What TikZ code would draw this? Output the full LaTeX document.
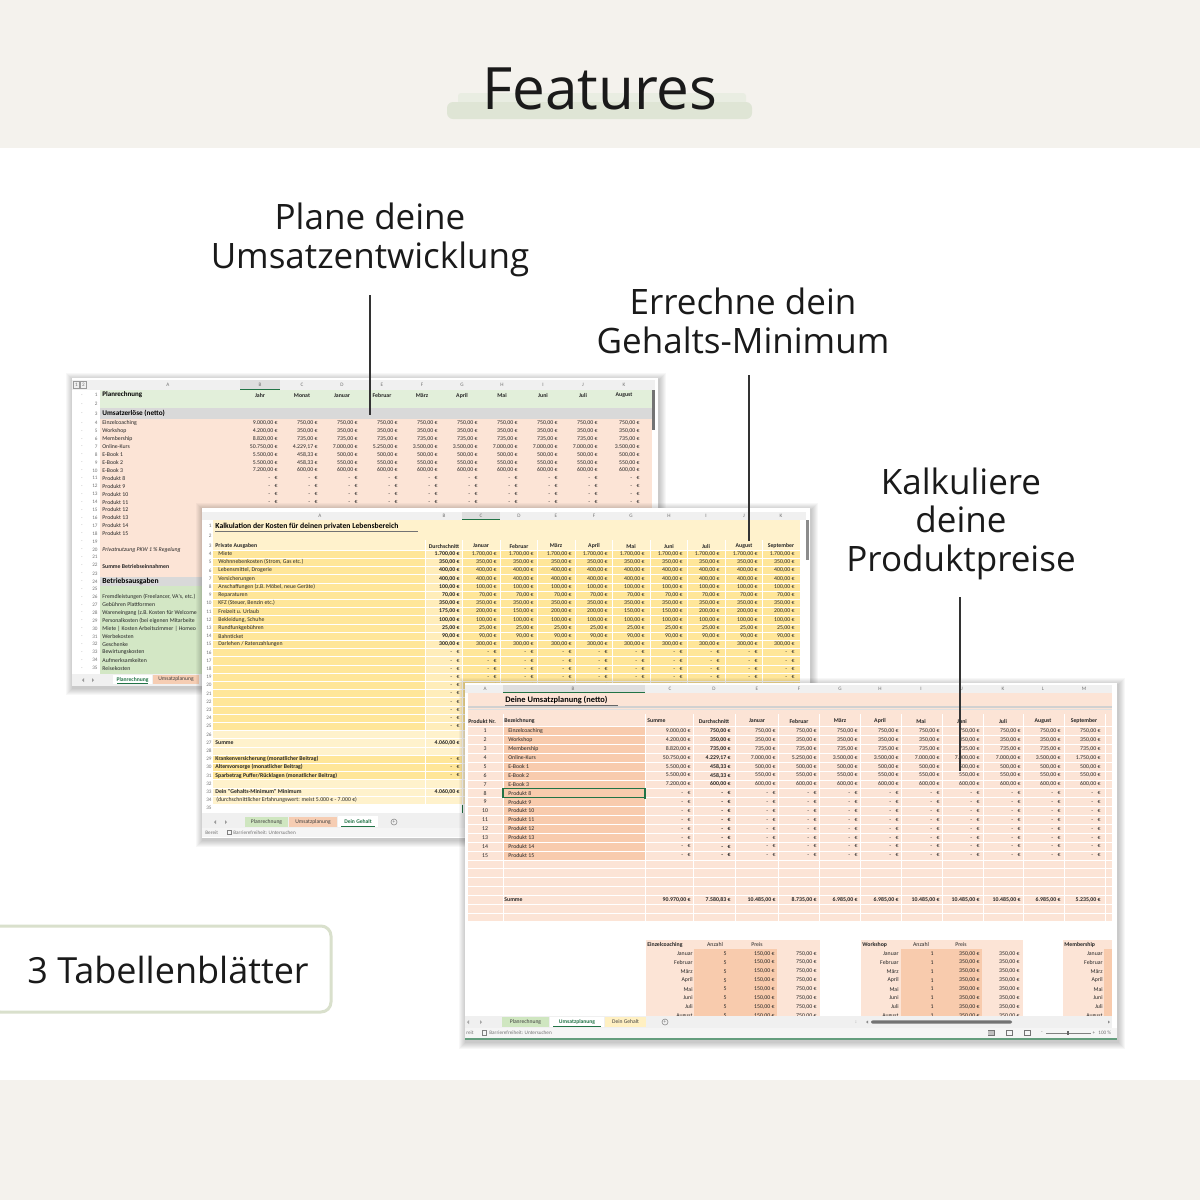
\documentclass[tikz,border=0pt]{standalone}
\usepackage{fontspec}
\setmainfont{Open Sans}
\newfontfamily\carl{Carlito}
\usetikzlibrary{calc}
\definecolor{beige}{HTML}{F4F2ED}
\definecolor{hl}{HTML}{DFE5D5}
\definecolor{boxline}{HTML}{D9E0CC}
\definecolor{salm}{HTML}{FCE4D6}
\definecolor{salmd}{HTML}{F8CBAD}
\definecolor{lgreen}{HTML}{E2EFDA}
\definecolor{mgreen}{HTML}{D3E7C5}
\definecolor{grayb}{HTML}{D9D9D9}
\definecolor{yel}{HTML}{FFE699}
\definecolor{yelm}{HTML}{FFEDBA}
\definecolor{yell}{HTML}{FFF2CC}
\definecolor{hdr}{HTML}{F0F0F0}
\definecolor{xg}{HTML}{217346}
\definecolor{tabg}{HTML}{CFE6C0}
\definecolor{tabs}{HTML}{F6CDB3}
\definecolor{taby}{HTML}{FFF0C2}
\definecolor{ink}{HTML}{1A1A1A}
\newcommand\E[1]{#1,00~€}
\newcommand\F[2]{#1,#2~€}
\newcommand\nil{-\hspace{2.2pt}€}
\newcommand\rowvals[5]{%
  \foreach \v [count=\i from 0] in {#5} {%
    \pgfmathsetmacro\xx{#2[\i]}%
    \node[#4, anchor=east] (#1-\i) at (\xx,{#3}) {\v};
  }}
\newcommand\shadowbox[4]{%
  \foreach \k in {1,...,7} {\fill[shade] (#1-\k+1,#2-\k+2) rectangle (#3+\k+1,#4+\k+2);}}
\tikzset{
  c/.style={font=\carl\fontsize{2.9}{3}\selectfont, inner sep=0pt, text=black!85},
  cb/.style={font=\carl\bfseries\fontsize{2.9}{3}\selectfont, inner sep=0pt, text=black!85},
  hd/.style={font=\carl\fontsize{2.6}{3}\selectfont, inner sep=0pt, text=black!55},
  tabt/.style={font=\carl\fontsize{2.8}{3}\selectfont, inner sep=0pt, text=black!75},
  tabact/.style={font=\carl\bfseries\fontsize{2.8}{3}\selectfont, inner sep=0pt, text=xg},
  lab/.style={font=\fontsize{17.5}{19.3}\selectfont, align=center, text=ink, inner sep=0pt},
  lead/.style={draw=black!80, line width=0.7pt},
  shade/.style={fill=black, opacity=0.03},
  grid/.style={draw=white, line width=0.3pt},
}
\begin{document}
\begin{tikzpicture}[x=0.5pt,y=-0.5pt]
\useasboundingbox (0,0) rectangle (1200,1200);
% ---------------- background
\fill[white] (0,0) rectangle (1200,1200);
\fill[beige] (0,0) rectangle (1200,148);
\fill[beige] (0,1080) rectangle (1200,1200);
% ---------------- title
\fill[hl!70, rounded corners=1.5] (458,93) rectangle (746,104);
\fill[hl, rounded corners=3] (447,102) rectangle (752,119);
\node[font=\fontsize{29.2}{31}\selectfont, text=ink, anchor=base, inner sep=0pt] (title) at (600,109) {Features};

% ================= SHEET 1 : Planrechnung
\shadowbox{72}{378}{658}{686}
\fill[white] (72,378) rectangle (658,686);
\fill[hdr] (72,380) rectangle (655,390);
\fill[black!13] (240,380) rectangle (280,390);
\draw[xg, line width=0.5pt] (240,389.6) -- (280,389.6);
\foreach \l/\x in {A/168,B/260,C/302,D/342,E/382,F/422,G/462,H/502,I/543,J/583,K/624}
  {\node[hd] (s1h\l) at (\x,385.3) {\l};}
\draw[black!40, line width=0.2pt] (73.5,381.5) rectangle (79.5,388.5) (80.5,381.5) rectangle (86.5,388.5);
\node[hd] (s1o1) at (76.5,385.2) {1};
\node[hd] (s1o2) at (83.5,385.2) {2};
\fill[lgreen] (100,390) rectangle (652,408);
\fill[grayb] (100,408) rectangle (652,418.5);
\fill[salm] (100,418.5) rectangle (652,577);
\fill[grayb] (100,577) rectangle (652,586);
\fill[mgreen] (100,586) rectangle (652,674);
\fill[black!55] (652,390) rectangle (655,430);
\foreach \k in {1,...,35} {
  \pgfmathsetmacro\yy{\k<4 ? 395+(\k-1)*9.2 : (\k<23 ? 423+(\k-4)*7.9 : (\k==23 ? 573.5 : (\k==24 ? 581.5 : 589+(\k-25)*7.9)))}
  \node[hd, anchor=east] (s1n\k) at (98,\yy) {\k};
  \node[hd] (s1d\k) at (82,\yy) {.};
}
\node[font=\carl\bfseries\fontsize{3.5}{4}\selectfont, inner sep=0pt, anchor=west] (s1t) at (102,395) {Planrechnung};
\node[font=\carl\bfseries\fontsize{3.6}{4}\selectfont, inner sep=0pt, anchor=west] (s1u) at (102,413.5) {Umsatzerlöse (netto)};
\foreach \h [count=\i from 0] in {Jahr,Monat,Januar,Februar,März,April,Mai,Juni,Juli,August}{
  \pgfmathsetmacro\xx{{260,302,342,382,422,462,502,543,583,624}[\i]}
  \node[cb] (s1c\i) at (\xx,395.5) {\h};
}
\foreach \k/\t in {4/Einzelcoaching,5/Workshop,6/Membership,7/Online-Kurs,8/E-Book 1,9/E-Book 2,10/E-Book 3,11/Produkt 8,12/Produkt 9,13/Produkt 10,14/Produkt 11,15/Produkt 12,16/Produkt 13,17/Produkt 14,18/Produkt 15}
  {\node[c, anchor=west] (s1l\k) at (102,{423+(\k-4)*7.9}) {\t};}
\node[c, anchor=west, font=\carl\itshape\fontsize{2.9}{3}\selectfont] (s1l20) at (102,550.4) {Privatnutzung PKW 1 \% Regelung};
\node[cb, anchor=west] (s1l22) at (102,566.2) {Summe Betriebseinnahmen};
\node[font=\carl\bfseries\fontsize{3.8}{4}\selectfont, inner sep=0pt, anchor=west] (s1l24) at (102,581.5) {Betriebsausgaben};
\foreach \k/\t in {26/{Fremdleistungen (Freelancer, VA's, etc.)},27/Gebühren Plattformen,28/Wareneingang (z.B. Kosten für Welcome,29/Personalkosten (bei eigenen Mitarbeite,30/Miete | Kosten Arbeitszimmer | Homeo,31/Werbekosten,32/Geschenke,33/Bewirtungskosten,34/Aufmerksamkeiten,35/Reisekosten}
  {\node[c, anchor=west] (s1l\k) at (102,{589+(\k-25)*7.9}) {\t};}
\def\xa{{278,318,358,398,438,478,518,558,598,640}}
\rowvals{s1v4}{\xa}{423}{c}{\E{9.000},\E{750},\E{750},\E{750},\E{750},\E{750},\E{750},\E{750},\E{750},\E{750}}
\rowvals{s1v5}{\xa}{430.9}{c}{\E{4.200},\E{350},\E{350},\E{350},\E{350},\E{350},\E{350},\E{350},\E{350},\E{350}}
\rowvals{s1v6}{\xa}{438.8}{c}{\E{8.820},\E{735},\E{735},\E{735},\E{735},\E{735},\E{735},\E{735},\E{735},\E{735}}
\rowvals{s1v7}{\xa}{446.7}{c}{\E{50.750},\F{4.229}{17},\E{7.000},\E{5.250},\E{3.500},\E{3.500},\E{7.000},\E{7.000},\E{7.000},\E{3.500}}
\rowvals{s1v8}{\xa}{454.6}{c}{\E{5.500},\F{458}{33},\E{500},\E{500},\E{500},\E{500},\E{500},\E{500},\E{500},\E{500}}
\rowvals{s1v9}{\xa}{462.5}{c}{\E{5.500},\F{458}{33},\E{550},\E{550},\E{550},\E{550},\E{550},\E{550},\E{550},\E{550}}
\rowvals{s1v10}{\xa}{470.4}{c}{\E{7.200},\E{600},\E{600},\E{600},\E{600},\E{600},\E{600},\E{600},\E{600},\E{600}}
\foreach \k in {11,...,15}
  {\rowvals{s1v\k}{\xa}{423+(\k-4)*7.9}{c}{\nil,\nil,\nil,\nil,\nil,\nil,\nil,\nil,\nil,\nil}}
% tab bar sheet 1
\fill[hdr] (72,674) rectangle (202,686);
\fill[black!40] (84,678) -- (84,682) -- (82,680) -- cycle;
\fill[black!40] (92,678) -- (92,682) -- (94,680) -- cycle;
\fill[white] (113,675) rectangle (152,684);
\node[tabact] (s1tab1) at (132.5,679.5) {Planrechnung};
\draw[xg, line width=0.5pt] (117,683.2) -- (148,683.2);
\fill[tabs] (153,675) rectangle (199,684);
\node[tabt] (s1tab2) at (176,679.5) {Umsatzplanung};

% ================= SHEET 2 : Dein Gehalt
\shadowbox{202}{508}{810}{838}
\fill[white] (202,508) rectangle (810,838);
\fill[hdr] (202,512) rectangle (806,520);
\fill[black!13] (462,512) rectangle (500,520);
\draw[xg, line width=0.5pt] (462,519.6) -- (500,519.6);
\foreach \l/\x in {A/320,B/444,C/481,D/519,E/556,F/594,G/631,H/669,I/706,J/744,K/781}
  {\node[hd] (s2h\l) at (\x,516) {\l};}
\fill[yell] (213,520) rectangle (800,550);
\fill[yel] (213,550) rectangle (800,730.3);
\fill[yelm] (425,550) rectangle (462,730.3);
\fill[yell] (213,730.3) rectangle (800,804.5);
\fill[yel] (213,755.1) rectangle (462,779.7);
\draw[black!55, line width=0.3pt] (215,531.5) -- (418,531.5);
\foreach \k in {4,...,35} {\draw[grid] (213,{550+(\k-4)*8.2}) -- (800,{550+(\k-4)*8.2});}
\foreach \x in {425,462,500,537,575,612,650,687,725,762,800} {\draw[grid] (\x,540) -- (\x,804.5);}
\fill[black!45] (806,520) rectangle (809,560);
\foreach \k in {1,...,35} {
  \pgfmathsetmacro\yy{\k<4 ? 526+(\k-1)*10 : 554+(\k-4)*8.2}
  \node[hd, anchor=east] (s2n\k) at (212,\yy) {\k};
}
\node[font=\carl\bfseries\fontsize{3.85}{4}\selectfont, inner sep=0pt, anchor=west] (s2t) at (215,526) {Kalkulation der Kosten für deinen privaten Lebensbereich};
\node[cb, anchor=west] (s2pa) at (215,546) {Private Ausgaben};
\foreach \h [count=\i from 0] in {Durchschnitt,Januar,Februar,März,April,Mai,Juni,Juli,August,September}{
  \pgfmathsetmacro\xx{{444,481,519,556,594,631,669,706,744,781}[\i]}
  \node[cb] (s2c\i) at (\xx,546) {\h};
}
\foreach \k/\t in {4/Miete,5/{Wohnnebenkosten (Strom, Gas etc.)},6/{Lebensmittel, Drogerie},7/Versicherungen,8/{Anschaffungen (z.B. Möbel, neue Geräte)},9/Reparaturen,10/{KFZ (Steuer, Benzin etc.)},11/Freizeit u. Urlaub,12/{Bekleidung, Schuhe},13/Rundfunkgebühren,14/Bahnticket,15/{Darlehen / Ratenzahlungen}}
  {\node[c, anchor=west] (s2l\k) at (218,{554+(\k-4)*8.2}) {\t};}
\def\xc{{497,534,572,608,645,683,720,758,795}}
\foreach \k/\d in {4/1.700,5/350,6/400,7/400,8/100,9/70,10/350,12/100,13/25,14/90,15/300} {
  \node[cb, anchor=east] (s2d\k) at (460,{554+(\k-4)*8.2}) {\E{\d}};
  \rowvals{s2v\k}{\xc}{554+(\k-4)*8.2}{c}{\E{\d},\E{\d},\E{\d},\E{\d},\E{\d},\E{\d},\E{\d},\E{\d},\E{\d}}
}
\node[cb, anchor=east] (s2d11) at (460,611.4) {\E{175}};
\rowvals{s2v11}{\xc}{611.4}{c}{\E{200},\E{150},\E{200},\E{200},\E{150},\E{150},\E{200},\E{200},\E{200}}
\foreach \k in {16,...,25} {
  \node[c, anchor=east] (s2d\k) at (460,{554+(\k-4)*8.2}) {\nil};
  \rowvals{s2v\k}{\xc}{554+(\k-4)*8.2}{c}{\nil,\nil,\nil,\nil,\nil,\nil,\nil,\nil,\nil}
}
\node[cb, anchor=west] (s2s) at (215,742.6) {Summe};
\node[cb, anchor=east] (s2sv) at (460,742.6) {\E{4.060}};
\node[cb, anchor=west] (s2k29) at (215,759) {Krankenversicherung (monatlicher Beitrag)};
\node[cb, anchor=west] (s2k30) at (215,767.2) {Altersvorsorge (monatlicher Beitrag)};
\node[cb, anchor=west] (s2k31) at (215,775.4) {Sparbetrag Puffer/Rücklagen (monatlicher Beitrag)};
\foreach \k in {29,30,31} {\node[c, anchor=east] (s2kv\k) at (460,{554+(\k-4)*8.2}) {\nil};}
\node[cb, anchor=west] (s2g) at (215,791.8) {Dein "Gehalts-Minimum" Minimum};
\node[cb, anchor=east] (s2gv) at (460,791.8) {\E{4.060}};
\node[c, anchor=west] (s2e) at (216,800) {(durchschnittlicher Erfahrungswert: meist 5.000 € - 7.000 €)};
\draw[xg, line width=0.5pt] (462,804.5) -- (462,813);
% tab bar sheet 2
\fill[hdr] (202,813) rectangle (806,827.5);
\fill[black!40] (216,820) -- (216,824) -- (214,822) -- cycle;
\fill[black!40] (225,820) -- (225,824) -- (227,822) -- cycle;
\fill[tabg] (245,817) rectangle (288,827);
\node[tabt] (s2tab1) at (266.5,822) {Planrechnung};
\fill[tabs] (289,817) rectangle (337,827);
\node[tabt] (s2tab2) at (313,822) {Umsatzplanung};
\fill[white] (338,816) rectangle (378,827);
\node[tabact] (s2tab3) at (358,822) {Dein Gehalt};
\draw[xg, line width=0.5pt] (341,826.3) -- (375,826.3);
\draw[black!45, line width=0.3pt] (394,822) circle (3);
\node[hd] (s2plus) at (394,821.8) {+};
\fill[black!4] (202,827.5) rectangle (806,837);
\node[hd, anchor=west] (s2st1) at (205,832.5) {Bereit};
\node[hd, anchor=west] (s2st2) at (233,832.5) {Barrierefreiheit: Untersuchen};
\draw[black!50, line width=0.3pt] (227,830) rectangle (231,834.5);

% ================= SHEET 3 : Umsatzplanung
\shadowbox{465}{683}{1117}{1040}
\fill[white] (465,683) rectangle (1117,1040);
\fill[hdr] (465,685) rectangle (1112,693);
\fill[black!13] (503,685) rectangle (645,693);
\draw[xg, line width=0.5pt] (503,692.6) -- (645,692.6);
\foreach \l/\x in {A/485,B/573,C/670,D/714,E/757,F/799,G/840,H/880,I/921,J/962,K/1003,L/1043,M/1084}
  {\node[hd] (s3h\l) at (\x,689) {\l};}
\fill[salm] (468,693) rectangle (1112,921);
\fill[salmd] (503,727) rectangle (645,860);
\foreach \x in {503,645,693,735,778,819,860,901,942,983,1023,1064,1105} {\draw[grid] (\x,714) -- (\x,921);}
\foreach \k in {1,...,22} {\draw[grid] (468,{726.6+(\k-1)*8.88}) -- (1112,{726.6+(\k-1)*8.88});}
\draw[black!18, line width=0.6pt] (468,707) -- (1112,707);
\draw[black!12, line width=0.4pt] (468,709) -- (1112,709);
\node[font=\carl\bfseries\fontsize{4.2}{4.5}\selectfont, inner sep=0pt, anchor=west] (s3t) at (505,700) {Deine Umsatzplanung (netto)};
\draw[black!60, line width=0.3pt] (505,704.8) -- (618,704.8);
\node[cb, anchor=west] (s3pn) at (468,721) {Produkt Nr.};
\node[cb, anchor=west] (s3bz) at (504,721) {Bezeichnung};
\node[cb, anchor=west] (s3sm) at (647,721) {Summe};
\foreach \h [count=\i from 0] in {Durchschnitt,Januar,Februar,März,April,Mai,Juni,Juli,August,September}{
  \pgfmathsetmacro\xx{{714,757,799,840,880,921,962,1003,1043,1084}[\i]}
  \node[cb] (s3c\i) at (\xx,721) {\h};
}
\foreach \k/\t in {1/Einzelcoaching,2/Workshop,3/Membership,4/Online-Kurs,5/E-Book 1,6/E-Book 2,7/E-Book 3,8/Produkt 8,9/Produkt 9,10/Produkt 10,11/Produkt 11,12/Produkt 12,13/Produkt 13,14/Produkt 14,15/Produkt 15} {
  \node[c] (s3n\k) at (485,{731+(\k-1)*8.88}) {\k};
  \node[c, anchor=west] (s3l\k) at (508,{731+(\k-1)*8.88}) {\t};
}
\draw[xg, line width=0.6pt] (503,788.8) rectangle (645,797.6);
\fill[xg] (644,796.6) rectangle (646.2,798.6);
\def\xd{{691,731,776,817,858,899,940,980,1021,1061,1101}}
\rowvals{s3v1}{\xd}{731}{c}{\E{9.000},\textbf{\E{750}},\E{750},\E{750},\E{750},\E{750},\E{750},\E{750},\E{750},\E{750},\E{750}}
\rowvals{s3v2}{\xd}{739.9}{c}{\E{4.200},\textbf{\E{350}},\E{350},\E{350},\E{350},\E{350},\E{350},\E{350},\E{350},\E{350},\E{350}}
\rowvals{s3v3}{\xd}{748.8}{c}{\E{8.820},\textbf{\E{735}},\E{735},\E{735},\E{735},\E{735},\E{735},\E{735},\E{735},\E{735},\E{735}}
\rowvals{s3v4}{\xd}{757.6}{c}{\E{50.750},\textbf{\F{4.229}{17}},\E{7.000},\E{5.250},\E{3.500},\E{3.500},\E{7.000},\E{7.000},\E{7.000},\E{3.500},\E{1.750}}
\rowvals{s3v5}{\xd}{766.5}{c}{\E{5.500},\textbf{\F{458}{33}},\E{500},\E{500},\E{500},\E{500},\E{500},\E{500},\E{500},\E{500},\E{500}}
\rowvals{s3v6}{\xd}{775.4}{c}{\E{5.500},\textbf{\F{458}{33}},\E{550},\E{550},\E{550},\E{550},\E{550},\E{550},\E{550},\E{550},\E{550}}
\rowvals{s3v7}{\xd}{784.3}{c}{\E{7.200},\textbf{\E{600}},\E{600},\E{600},\E{600},\E{600},\E{600},\E{600},\E{600},\E{600},\E{600}}
\foreach \k in {8,...,15}
  {\rowvals{s3v\k}{\xd}{731+(\k-1)*8.88}{c}{\nil,\textbf{\nil},\nil,\nil,\nil,\nil,\nil,\nil,\nil,\nil,\nil}}
\node[cb, anchor=west] (s3s) at (504,899.5) {Summe};
\rowvals{s3sv}{\xd}{899.5}{cb}{\E{90.970},\F{7.580}{83},\E{10.485},\E{8.735},\E{6.985},\E{6.985},\E{10.485},\E{10.485},\E{10.485},\E{6.985},\E{5.235}}
% small tables
\fill[salm] (646,940) rectangle (820,1016);
\fill[salmd] (694,949) rectangle (777,1016);
\node[cb, anchor=west] (t1h) at (647,944.5) {Einzelcoaching};
\node[c] (t1a) at (715,944.5) {Anzahl};
\node[c] (t1p) at (757,944.5) {Preis};
\fill[salm] (861,940) rectangle (1023,1016);
\fill[salmd] (901,949) rectangle (982,1016);
\node[cb, anchor=west] (t2h) at (862,944.5) {Workshop};
\node[c] (t2a) at (921,944.5) {Anzahl};
\node[c] (t2p) at (961,944.5) {Preis};
\fill[salm] (1063,940) rectangle (1112,1016);
\fill[salmd] (1104,949) rectangle (1112,1016);
\node[cb, anchor=west] (t3h) at (1064,944.5) {Membership};
\foreach \m [count=\i from 0] in {Januar,Februar,März,April,Mai,Juni,Juli,August} {
  \pgfmathsetmacro\yy{953.5+\i*8.9}
  \node[c, anchor=east] (t1m\i) at (693,\yy) {\m};
  \node[c, anchor=east] (t1n\i) at (727,\yy) {5};
  \node[c, anchor=east] (t1q\i) at (775,\yy) {\E{150}};
  \node[c, anchor=east] (t1s\i) at (817,\yy) {\E{750}};
  \node[c, anchor=east] (t2m\i) at (899,\yy) {\m};
  \node[c, anchor=east] (t2n\i) at (934,\yy) {1};
  \node[c, anchor=east] (t2q\i) at (980,\yy) {\E{350}};
  \node[c, anchor=east] (t2s\i) at (1020,\yy) {\E{350}};
  \node[c, anchor=east] (t3m\i) at (1103,\yy) {\m};
}
% tab bar sheet 3
\fill[hdr] (465,1016) rectangle (1112,1028);
\fill[black!35] (469,1020) -- (469,1024) -- (467,1022) -- cycle;
\fill[black!35] (480,1020) -- (480,1024) -- (482,1022) -- cycle;
\fill[tabg] (502,1017) rectangle (549,1027);
\node[tabt] (s3tab1) at (525.5,1022) {Planrechnung};
\fill[white] (550,1016.5) rectangle (604,1027);
\node[tabact] (s3tab2) at (577,1022) {Umsatzplanung};
\draw[xg, line width=0.5pt] (553,1026.3) -- (601,1026.3);
\fill[taby] (605,1017) rectangle (646,1027);
\node[tabt] (s3tab3) at (625.5,1022) {Dein Gehalt};
\draw[black!45, line width=0.3pt] (665,1022) circle (3);
\node[hd] (s3plus) at (665,1021.8) {+};
\node[hd] (s3dots) at (856,1022) {:};
\fill[black!45] (868,1020.5) -- (868,1023.5) -- (866,1022) -- cycle;
\fill[black!55, rounded corners=1] (871,1020.3) rectangle (1012,1023.7);
\fill[black!45] (1108,1020.5) -- (1108,1023.5) -- (1110,1022) -- cycle;
\fill[black!4] (465,1028) rectangle (1117,1037.5);
\node[hd, anchor=west] (s3st1) at (466,1032.8) {reit};
\draw[black!50, line width=0.3pt] (482,1030.5) rectangle (486,1035);
\node[hd, anchor=west] (s3st2) at (489,1032.8) {Barrierefreiheit: Untersuchen};
\foreach \x in {991,1009,1027} {\draw[black!55, line width=0.3pt] (\x-3,1030.5) rectangle (\x+3,1035);}
\fill[black!25] (988,1030.5) rectangle (994,1035);
\node[hd] (s3zm) at (1042,1032.6) {-};
\draw[black!50, line width=0.3pt] (1046,1032.8) -- (1091,1032.8);
\fill[black!60] (1067,1030.8) rectangle (1069,1034.8);
\node[hd] (s3zp) at (1094,1032.6) {+};
\node[hd, anchor=west] (s3zz) at (1098,1032.8) {100 \%};
\fill[xg!70] (465,1037.5) rectangle (1117,1039.5);

% ================= annotations
\node[lab] (lab1) at (370,240) {Plane deine\\Umsatzentwicklung};
\node[lab] (lab2) at (743,321) {Errechne dein\\Gehalts-Minimum};
\node[lab] (lab3) at (961,523.5) {Kalkuliere\\deine\\Produktpreise};
\coordinate (p1a) at (370,295);
\coordinate (p1b) at (370,415);
\coordinate (p2a) at (749,375);
\coordinate (p2b) at (749,541);
\coordinate (p3a) at (960,597);
\coordinate (p3b) at (960,771);
\draw[lead] (p1a) -- (p1b);
\draw[lead] (p2a) -- (p2b);
\draw[lead] (p3a) -- (p3b);

% ================= box
\draw[draw=boxline, line width=1.5pt, rounded corners=5] (-10,926) rectangle (331,1012);
\node[font=\fontsize{18}{20}\selectfont, text=ink, anchor=base, inner sep=0pt] (tabs) at (168,983) {3 Tabellenblätter};
\end{tikzpicture}
\end{document}
